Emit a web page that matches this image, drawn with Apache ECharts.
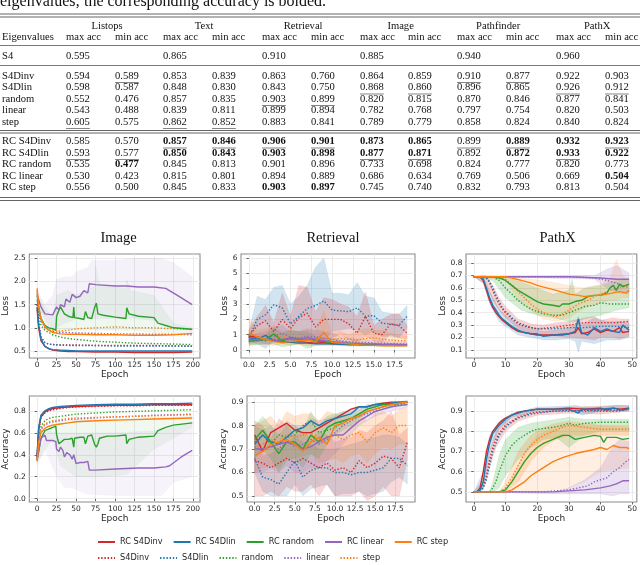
<!DOCTYPE html>
<html><head><meta charset="utf-8">
<script src="https://cdn.jsdelivr.net/npm/echarts@6/dist/echarts.min.js"></script>
<style>html,body{margin:0;padding:0;background:#fff}#c{width:640px;height:565px}</style>
</head><body><div id="c"></div><script>
// ---------------- DATA ----------------
const CAPTION = 'eigenvalues; the corresponding accuracy is bolded.';
const TASKS = ['Listops','Text','Retrieval','Image','Pathfinder','PathX'];
const SUBHEADS = ['max acc','min acc'];
const ROW_LABELS = ['S4','S4Dinv','S4Dlin','random','linear','step','RC S4Dinv','RC S4Dlin','RC random','RC linear','RC step'];
const TABLE_VALUES = [
 ['0.595','','0.865','','0.910','','0.885','','0.940','','0.960',''],
 ['0.594','0.589','0.853','0.839','0.863','0.760','0.864','0.859','0.910','0.877','0.922','0.903'],
 ['0.598','0.587','0.848','0.830','0.843','0.750','0.868','0.860','0.896','0.865','0.926','0.912'],
 ['0.552','0.476','0.857','0.835','0.903','0.899','0.820','0.815','0.870','0.846','0.877','0.841'],
 ['0.543','0.488','0.839','0.811','0.899','0.894','0.782','0.768','0.797','0.754','0.820','0.503'],
 ['0.605','0.575','0.862','0.852','0.883','0.841','0.789','0.779','0.858','0.824','0.840','0.824'],
 ['0.585','0.570','0.857','0.846','0.906','0.901','0.873','0.865','0.899','0.889','0.932','0.923'],
 ['0.593','0.577','0.850','0.843','0.903','0.898','0.877','0.871','0.892','0.872','0.933','0.922'],
 ['0.535','0.477','0.845','0.813','0.901','0.896','0.733','0.698','0.824','0.777','0.820','0.773'],
 ['0.530','0.423','0.815','0.801','0.894','0.889','0.686','0.634','0.769','0.506','0.669','0.504'],
 ['0.556','0.500','0.845','0.833','0.903','0.897','0.745','0.740','0.832','0.793','0.813','0.504']
];
const TABLE_BOLD = [[6,2],[6,3],[6,4],[6,5],[6,6],[6,7],[6,9],[6,10],[6,11],
 [7,2],[7,3],[7,4],[7,5],[7,6],[7,7],[7,9],[7,10],[7,11],[8,1],[9,11],[10,4],[10,5]];
const TABLE_UNDERLINE = [[1,1],[1,8],[1,9],[2,6],[2,7],[2,10],[2,11],[3,4],[3,5],[5,0],[5,2],[5,3],
 [6,2],[6,3],[6,4],[6,5],[6,8],[6,9],[6,11],[7,0],[7,1],[7,6],[7,7],[7,10]];

const SERIES_NAMES = ['RC S4Dinv','RC S4Dlin','RC random','RC linear','RC step','S4Dinv','S4Dlin','random','linear','step'];
const PANEL_TITLES = ['Image','Retrieval','PathX'];

const IMG_X_TICKS = [0,25,50,75,100,125,150,175,200];
const RET_X_TICKS = [0,2.5,5,7.5,10,12.5,15,17.5];
const PX_X_TICKS = [0,10,20,30,40,50];
const IMG_LOSS_Y_TICKS = [0.5,1.0,1.5,2.0,2.5];
const RET_LOSS_Y_TICKS = [0,1,2,3,4,5,6];
const PX_LOSS_Y_TICKS = [0.1,0.2,0.3,0.4,0.5,0.6,0.7,0.8];
const IMG_ACC_Y_TICKS = [0.0,0.2,0.4,0.6,0.8];
const RET_ACC_Y_TICKS = [0.5,0.6,0.7,0.8,0.9];
const PX_ACC_Y_TICKS = [0.5,0.6,0.7,0.8,0.9];

// Image (epochs 0..199)
const IMG_EPOCHS = [0,2,5,10,15,20,30,40,50,75,100,125,150,175,199];
const imgLoss_RC_S4Dinv = [1.40,1.00,0.72,0.60,0.55,0.52,0.50,0.49,0.49,0.48,0.48,0.47,0.47,0.47,0.48];
const imgLoss_RC_S4Dlin = [1.45,1.05,0.75,0.60,0.55,0.53,0.52,0.51,0.50,0.50,0.50,0.50,0.50,0.50,0.50];
const imgLoss_RC_step   = [1.85,1.45,1.20,1.02,0.95,0.90,0.87,0.86,0.86,0.85,0.85,0.84,0.84,0.85,0.88];
const imgLoss_S4Dinv    = [1.50,1.10,0.80,0.68,0.65,0.64,0.63,0.63,0.63,0.62,0.62,0.62,0.62,0.61,0.61];
const imgLoss_S4Dlin    = [1.50,1.10,0.80,0.68,0.65,0.64,0.63,0.62,0.62,0.62,0.61,0.61,0.61,0.61,0.60];
const imgLoss_random    = [1.70,1.30,1.05,0.95,0.90,0.85,0.80,0.77,0.75,0.71,0.69,0.67,0.66,0.65,0.64];
const imgLoss_linear    = [1.75,1.40,1.15,1.00,0.95,0.92,0.90,0.90,0.89,0.88,0.87,0.87,0.86,0.86,0.85];
const imgLoss_step      = [1.80,1.45,1.20,1.05,0.98,0.95,0.93,0.95,0.98,1.00,1.02,1.00,1.00,0.98,0.96];
const imgLoss_RC_random = [[0,1.6],[5,1.2],[10,1.05],[15,1.0],[20,0.98],[24,0.95],[25,1.25],[28,1.38],[30,1.45],[35,1.3],[40,1.25],[46,1.22],[47,1.45],[48,1.22],[55,1.2],[60,1.18],[62,1.35],[65,1.22],[70,1.2],[74,1.45],[76,1.53],[78,1.3],[85,1.27],[100,1.23],[114,1.2],[115,1.43],[118,1.3],[130,1.25],[150,1.22],[155,1.1],[165,1.05],[175,1.0],[199,0.97]];
const imgLoss_RC_linear = [[0,1.7],[5,1.45],[10,1.3],[20,1.28],[22,1.3],[25,1.45],[28,1.38],[30,1.5],[35,1.45],[37,1.62],[42,1.55],[45,1.72],[50,1.65],[55,1.68],[60,1.8],[65,1.75],[67,1.95],[75,1.93],[100,1.9],[115,1.9],[130,1.88],[150,1.88],[165,1.85],[180,1.7],[199,1.5]];
const imgLossBand_RC_linear = [[0,1.6,1.8],[10,1.05,1.5],[20,1.0,1.7],[25,1.0,2.05],[35,1.1,2.1],[45,1.15,2.1],[50,1.2,2.2],[65,1.2,2.3],[70,1.2,2.45],[100,1.2,2.45],[125,1.2,2.5],[150,1.15,2.5],[160,1.1,2.5],[175,1.0,2.4],[199,0.95,2.1]];
const imgLossBand_RC_random = [[0,1.5,1.7],[20,0.9,1.2],[25,0.9,1.7],[40,0.95,1.8],[50,0.95,1.7],[74,0.95,1.9],[75,0.95,2.35],[80,0.95,1.9],[114,0.95,1.85],[115,0.95,2.05],[120,0.95,1.8],[150,0.9,1.7],[175,0.9,1.1],[199,0.9,1.0]];

const imgAcc_RC_S4Dinv = [0.38,0.63,0.75,0.79,0.81,0.82,0.83,0.835,0.84,0.845,0.85,0.85,0.855,0.855,0.855];
const imgAcc_RC_S4Dlin = [0.40,0.65,0.76,0.80,0.82,0.83,0.84,0.845,0.85,0.855,0.86,0.86,0.865,0.865,0.87];
const imgAcc_RC_step   = [0.34,0.52,0.60,0.64,0.66,0.67,0.68,0.69,0.70,0.71,0.715,0.72,0.725,0.73,0.735];
const imgAcc_S4Dinv    = [0.38,0.62,0.74,0.78,0.80,0.81,0.82,0.83,0.835,0.84,0.845,0.845,0.85,0.85,0.85];
const imgAcc_S4Dlin    = [0.40,0.64,0.75,0.79,0.81,0.82,0.83,0.84,0.845,0.85,0.855,0.855,0.86,0.86,0.86];
const imgAcc_random    = [0.36,0.56,0.66,0.71,0.73,0.74,0.75,0.76,0.77,0.78,0.79,0.795,0.80,0.805,0.81];
const imgAcc_linear    = [0.35,0.53,0.63,0.67,0.69,0.70,0.71,0.72,0.725,0.735,0.745,0.75,0.76,0.765,0.77];
const imgAcc_step      = [0.36,0.55,0.64,0.68,0.70,0.71,0.72,0.73,0.735,0.74,0.745,0.75,0.755,0.76,0.765];
const imgAcc_RC_random = [[0,0.36],[5,0.55],[10,0.62],[20,0.65],[24,0.66],[25,0.58],[28,0.5],[30,0.5],[35,0.54],[40,0.54],[45,0.55],[47,0.47],[48,0.55],[55,0.56],[60,0.56],[62,0.5],[65,0.57],[70,0.58],[74,0.49],[76,0.47],[78,0.5],[80,0.55],[90,0.57],[100,0.57],[114,0.58],[115,0.5],[118,0.54],[130,0.56],[150,0.57],[155,0.62],[165,0.65],[175,0.67],[199,0.69]];
const imgAcc_RC_linear = [[0,0.35],[5,0.55],[10,0.58],[12,0.53],[20,0.53],[24,0.52],[25,0.45],[28,0.43],[30,0.47],[33,0.44],[35,0.38],[38,0.42],[42,0.4],[45,0.36],[47,0.4],[50,0.32],[55,0.33],[60,0.33],[65,0.34],[67,0.26],[75,0.26],[100,0.27],[130,0.28],[150,0.28],[165,0.29],[170,0.3],[185,0.38],[199,0.44]];
const imgAccBand_RC_linear = [[0,0.3,0.4],[10,0.45,0.62],[25,0.2,0.6],[35,0.1,0.6],[45,0.1,0.6],[65,0.04,0.6],[100,0.03,0.6],[160,0.03,0.62],[175,0.15,0.65],[199,0.2,0.7]];
const imgAccBand_RC_random = [[0,0.33,0.4],[20,0.55,0.7],[30,0.3,0.7],[50,0.2,0.72],[75,0.2,0.72],[115,0.22,0.73],[150,0.45,0.74],[199,0.65,0.75]];

// Retrieval (epochs 0..19)
const RET_EPOCHS = [0,1,2,3,4,5,6,7,8,9,10,11,12,13,14,15,16,17,18,19];
const retLoss_RC_S4Dinv = [0.9,0.85,0.7,0.6,0.55,0.5,0.55,0.5,0.45,0.5,0.4,0.4,0.35,0.35,0.3,0.3,0.3,0.3,0.3,0.3];
const retLoss_RC_S4Dlin = [0.8,0.7,0.95,0.6,0.55,0.5,0.45,0.45,0.4,0.4,0.4,0.38,0.36,0.35,0.35,0.35,0.35,0.36,0.35,0.35];
const retLoss_RC_random = [0.6,0.6,0.7,1.05,0.6,0.8,0.7,0.65,0.6,0.55,0.5,0.45,0.4,0.38,0.35,0.33,0.32,0.3,0.3,0.3];
const retLoss_RC_linear = [0.7,0.65,0.7,0.6,0.7,0.75,0.7,0.8,0.7,0.6,0.55,0.5,0.45,0.42,0.4,0.4,0.38,0.37,0.36,0.35];
const retLoss_RC_step   = [1.1,0.85,0.7,0.55,0.5,0.55,0.6,0.65,0.55,1.15,0.5,0.45,0.4,0.35,0.3,0.3,0.28,0.28,0.27,0.27];
const retLoss_S4Dinv    = [0.9,1.6,1.9,1.2,2.0,1.4,2.1,2.4,1.5,2.0,2.0,2.0,1.7,1.1,2.2,1.1,1.0,1.7,1.6,1.1];
const retLoss_S4Dlin    = [0.8,2.0,2.3,2.95,2.75,1.7,2.2,2.7,2.9,3.2,2.6,2.55,2.5,2.75,2.2,2.25,1.75,1.7,1.6,2.2];
const retLoss_random    = [0.55,0.65,0.6,0.7,0.65,0.7,0.6,0.75,0.6,0.65,0.55,0.5,0.45,0.42,0.4,0.38,0.36,0.35,0.33,0.32];
const retLoss_linear    = [0.65,0.8,0.75,0.9,1.1,0.85,0.8,0.9,0.85,0.75,0.7,0.6,0.55,0.5,0.5,0.45,0.45,0.42,0.4,0.4];
const retLoss_step      = [1.0,0.9,0.85,0.8,0.9,0.75,0.8,0.7,0.75,0.8,0.7,0.75,0.7,0.65,0.75,0.8,0.7,0.65,0.6,0.6];
const retLossBand_S4Dlin_lo = [0.5,0.4,0.1,0.6,0.4,0.5,0.6,0.8,0.5,0.6,1.2,1.3,1.4,1.3,1.0,1.2,0.9,0.9,0.8,1.4];
const retLossBand_S4Dlin_hi = [1.2,3.5,3.3,4.1,4.2,3.0,3.5,4.2,5.4,6.0,3.7,3.7,3.6,4.4,3.5,3.4,2.5,2.4,2.3,2.9];
const retLossBand_S4Dinv_lo = [0.5,0.9,0.9,0.6,0.5,0.5,0.6,0.7,0.6,0.7,0.8,1.0,0.7,0.5,0.9,0.6,0.5,1.0,0.8,0.7];
const retLossBand_S4Dinv_hi = [1.3,2.2,2.9,1.8,3.7,2.2,4.2,4.1,2.5,3.4,3.3,3.0,2.8,2.2,3.8,1.6,2.0,2.3,2.4,1.6];
const retLossBand_step_lo = [0.3,0.4,0.35,0.3,0.4,0.3,0.35,0.3,0.3,0.35,0.35,0.4,0.4,0.35,0.4,0.4,0.4,0.35,0.3,0.3];
const retLossBand_step_hi = [2.1,1.3,1.4,1.6,1.2,1.3,1.2,1.3,1.2,2.6,1.1,1.2,1.0,1.2,1.4,1.3,1.3,1.1,1.0,0.9];
const retLossBand_RC_random_lo = [0.3,0.35,0.4,0.4,0.2,0.3,0.4,0.1,0.3,0.3,0.3,0.3,0.25,0.25,0.25,0.25,0.25,0.22,0.22,0.22];
const retLossBand_RC_random_hi = [0.9,0.85,1.0,1.4,1.1,1.3,1.2,1.2,0.9,0.8,0.7,0.6,0.55,0.5,0.45,0.42,0.4,0.4,0.38,0.38];
const retLossBand_linear_lo = [0.4,0.5,0.4,0.5,0.6,0.5,0.4,0.5,0.4,0.35,0.35,0.3,0.3,0.3,0.3,0.3,0.3,0.3,0.3,0.3];
const retLossBand_linear_hi = [1.0,1.1,1.2,1.5,1.6,1.2,1.2,1.4,1.3,1.2,1.1,0.9,0.8,0.7,0.7,0.6,0.6,0.55,0.5,0.5];

const retAcc_RC_S4Dinv = [0.76,0.69,0.77,0.79,0.81,0.78,0.77,0.77,0.79,0.81,0.83,0.85,0.87,0.88,0.88,0.89,0.895,0.9,0.9,0.9];
const retAcc_RC_S4Dlin = [0.72,0.76,0.73,0.72,0.75,0.78,0.79,0.82,0.8,0.82,0.83,0.84,0.85,0.88,0.88,0.89,0.89,0.895,0.9,0.9];
const retAcc_RC_random = [0.74,0.78,0.73,0.68,0.73,0.73,0.7,0.76,0.73,0.79,0.81,0.82,0.83,0.85,0.87,0.88,0.89,0.89,0.895,0.9];
const retAcc_RC_linear = [0.7,0.7,0.71,0.72,0.73,0.72,0.7,0.71,0.73,0.75,0.76,0.76,0.79,0.82,0.84,0.86,0.87,0.88,0.885,0.89];
const retAcc_RC_step   = [0.67,0.69,0.72,0.73,0.74,0.72,0.69,0.73,0.75,0.72,0.8,0.81,0.83,0.84,0.86,0.87,0.88,0.89,0.895,0.9];
const retAcc_S4Dinv    = [0.65,0.64,0.62,0.64,0.66,0.64,0.66,0.64,0.62,0.64,0.61,0.62,0.6,0.65,0.62,0.64,0.67,0.66,0.62,0.73];
const retAcc_S4Dlin    = [0.66,0.58,0.57,0.55,0.6,0.65,0.58,0.61,0.62,0.62,0.6,0.6,0.59,0.6,0.6,0.61,0.62,0.66,0.66,0.63];
const retAcc_random    = [0.73,0.76,0.72,0.76,0.75,0.76,0.8,0.82,0.77,0.78,0.79,0.82,0.83,0.84,0.86,0.87,0.88,0.89,0.89,0.9];
const retAcc_linear    = [0.71,0.69,0.71,0.7,0.73,0.71,0.72,0.74,0.72,0.74,0.77,0.8,0.82,0.84,0.85,0.86,0.87,0.88,0.89,0.89];
const retAcc_step      = [0.7,0.72,0.74,0.73,0.76,0.75,0.76,0.77,0.73,0.75,0.76,0.74,0.76,0.77,0.73,0.77,0.79,0.77,0.8,0.8];
const retAccBand_S4Dlin_lo = [0.6,0.52,0.5,0.5,0.5,0.55,0.5,0.53,0.54,0.55,0.5,0.51,0.51,0.52,0.5,0.51,0.52,0.56,0.58,0.55];
const retAccBand_S4Dlin_hi = [0.75,0.67,0.68,0.7,0.72,0.75,0.73,0.72,0.7,0.7,0.7,0.71,0.72,0.73,0.74,0.75,0.76,0.76,0.75,0.72];
const retAccBand_S4Dinv_lo = [0.5,0.5,0.52,0.5,0.54,0.52,0.52,0.55,0.5,0.55,0.5,0.5,0.5,0.52,0.48,0.5,0.54,0.5,0.5,0.66];
const retAccBand_S4Dinv_hi = [0.82,0.8,0.74,0.83,0.8,0.76,0.77,0.75,0.77,0.76,0.73,0.74,0.75,0.78,0.77,0.8,0.82,0.86,0.76,0.79];
const retAccBand_step_lo = [0.6,0.62,0.63,0.62,0.66,0.66,0.67,0.68,0.64,0.65,0.66,0.64,0.67,0.68,0.64,0.68,0.71,0.7,0.72,0.72];
const retAccBand_step_hi = [0.8,0.82,0.84,0.8,0.86,0.84,0.85,0.85,0.82,0.86,0.85,0.84,0.84,0.85,0.82,0.85,0.86,0.84,0.87,0.88];
const retAccBand_linear_lo = [0.6,0.6,0.62,0.6,0.63,0.6,0.6,0.62,0.62,0.65,0.68,0.72,0.76,0.8,0.82,0.84,0.85,0.86,0.87,0.88];
const retAccBand_linear_hi = [0.8,0.78,0.8,0.78,0.82,0.8,0.8,0.83,0.82,0.83,0.84,0.86,0.87,0.88,0.88,0.89,0.89,0.9,0.9,0.9];
const retAccBand_RC_random_lo = [0.66,0.7,0.66,0.6,0.65,0.66,0.62,0.68,0.66,0.72,0.76,0.78,0.8,0.83,0.85,0.87,0.88,0.88,0.89,0.89];
const retAccBand_RC_random_hi = [0.8,0.84,0.8,0.76,0.8,0.8,0.78,0.86,0.8,0.84,0.85,0.86,0.86,0.87,0.89,0.89,0.9,0.9,0.9,0.91];

// PathX (epochs 0..49)
const pxLoss_RC_S4Dinv = [[0,0.69],[2,0.69],[3,0.66],[4,0.58],[5,0.5],[6,0.44],[7,0.4],[8,0.37],[9,0.34],[10,0.32],[12,0.28],[14,0.25],[16,0.24],[18,0.23],[20,0.22],[25,0.22],[30,0.23],[32,0.24],[33,0.28],[34,0.23],[36,0.24],[38,0.27],[40,0.24],[42,0.26],[44,0.25],[46,0.28],[47,0.24],[49,0.25]];
const pxLoss_RC_S4Dlin = [[0,0.69],[2,0.69],[3,0.67],[4,0.6],[5,0.52],[6,0.46],[7,0.42],[8,0.38],[9,0.35],[10,0.33],[12,0.29],[14,0.26],[16,0.24],[18,0.23],[20,0.23],[22,0.21],[25,0.22],[28,0.22],[30,0.23],[32,0.25],[33,0.35],[34,0.24],[36,0.22],[38,0.28],[40,0.25],[42,0.27],[44,0.25],[46,0.24],[47,0.3],[49,0.26]];
const pxLoss_RC_random = [[0,0.69],[6,0.69],[8,0.68],[10,0.66],[12,0.62],[14,0.58],[16,0.55],[18,0.52],[20,0.49],[22,0.47],[25,0.46],[27,0.45],[28,0.47],[30,0.47],[32,0.49],[34,0.5],[36,0.53],[38,0.54],[40,0.54],[42,0.56],[43,0.6],[44,0.62],[45,0.58],[46,0.63],[47,0.61],[49,0.63]];
const pxLoss_RC_linear = [[0,0.69],[20,0.69],[30,0.69],[40,0.68],[45,0.67],[49,0.67]];
const pxLoss_RC_step = [[0,0.69],[10,0.69],[12,0.68],[15,0.66],[18,0.64],[20,0.62],[23,0.6],[26,0.58],[30,0.55],[33,0.54],[35,0.53],[38,0.54],[40,0.54],[42,0.55],[44,0.56],[46,0.57],[48,0.56],[49,0.58]];
const pxLoss_S4Dinv = [[0,0.69],[3,0.69],[4,0.68],[5,0.64],[6,0.58],[7,0.52],[8,0.47],[9,0.43],[10,0.4],[12,0.35],[14,0.31],[16,0.29],[18,0.28],[20,0.27],[25,0.28],[30,0.3],[35,0.32],[40,0.32],[45,0.32],[49,0.33]];
const pxLoss_S4Dlin = [[0,0.69],[3,0.69],[4,0.68],[5,0.65],[6,0.6],[7,0.54],[8,0.49],[9,0.44],[10,0.41],[12,0.36],[14,0.32],[16,0.3],[18,0.28],[20,0.27],[25,0.27],[30,0.28],[35,0.28],[40,0.29],[45,0.29],[49,0.28]];
const pxLoss_random = [[0,0.69],[6,0.69],[8,0.66],[10,0.6],[12,0.55],[14,0.5],[16,0.46],[18,0.43],[20,0.41],[22,0.39],[25,0.38],[28,0.38],[30,0.4],[33,0.43],[35,0.45],[38,0.46],[40,0.48],[43,0.47],[46,0.47],[49,0.47]];
const pxLoss_linear = [[0,0.69],[30,0.69],[38,0.68],[42,0.66],[46,0.63],[49,0.6]];
const pxLoss_step = [[0,0.69],[8,0.69],[10,0.67],[12,0.62],[14,0.57],[16,0.52],[18,0.47],[20,0.43],[22,0.4],[24,0.38],[26,0.37],[28,0.39],[30,0.42],[33,0.47],[36,0.5],[38,0.53],[40,0.55],[43,0.58],[46,0.6],[49,0.62]];
const pxLossBand_RC_S4Dlin = [[0,0.69,0.69],[3,0.64,0.7],[5,0.47,0.57],[8,0.33,0.43],[10,0.29,0.38],[14,0.22,0.3],[18,0.2,0.27],[22,0.18,0.25],[26,0.18,0.26],[30,0.19,0.28],[32,0.17,0.3],[33,0.08,0.37],[34,0.17,0.3],[38,0.15,0.36],[42,0.18,0.33],[46,0.18,0.33],[49,0.2,0.32]];
const pxLossBand_S4Dinv = [[0,0.69,0.69],[4,0.62,0.7],[6,0.5,0.62],[8,0.42,0.52],[10,0.36,0.45],[14,0.27,0.35],[18,0.23,0.31],[22,0.21,0.3],[26,0.21,0.32],[30,0.2,0.33],[35,0.19,0.36],[38,0.18,0.37],[40,0.2,0.34],[44,0.2,0.36],[46,0.19,0.35],[49,0.21,0.35]];
const pxLossBand_random = [[0,0.69,0.69],[6,0.66,0.69],[10,0.52,0.68],[15,0.42,0.65],[20,0.38,0.6],[25,0.36,0.55],[30,0.33,0.58],[31,0.33,0.67],[32,0.33,0.55],[35,0.35,0.6],[40,0.38,0.62],[45,0.42,0.66],[49,0.44,0.67]];
const pxLossBand_step = [[0,0.69,0.69],[10,0.66,0.69],[14,0.5,0.68],[18,0.42,0.67],[22,0.35,0.66],[26,0.33,0.64],[30,0.36,0.62],[35,0.44,0.6],[40,0.48,0.63],[43,0.5,0.68],[45,0.5,0.83],[47,0.52,0.7],[49,0.52,0.66]];
const pxLossBand_linear = [[0,0.69,0.69],[38,0.67,0.7],[42,0.6,0.75],[45,0.56,0.78],[49,0.55,0.72]];

const pxAcc_RC_S4Dinv = [[0,0.5],[1,0.5],[2,0.52],[3,0.6],[4,0.7],[5,0.76],[6,0.8],[7,0.82],[8,0.84],[9,0.855],[10,0.865],[12,0.88],[14,0.895],[16,0.9],[18,0.905],[20,0.91],[25,0.91],[30,0.915],[35,0.91],[40,0.915],[42,0.905],[44,0.915],[46,0.91],[49,0.915]];
const pxAcc_RC_S4Dlin = [[0,0.5],[1,0.5],[2,0.51],[3,0.55],[4,0.66],[5,0.74],[6,0.79],[7,0.81],[8,0.83],[9,0.845],[10,0.86],[12,0.88],[14,0.89],[16,0.9],[18,0.905],[20,0.91],[25,0.91],[30,0.91],[33,0.89],[34,0.91],[40,0.91],[44,0.915],[47,0.905],[49,0.915]];
const pxAcc_RC_random = [[0,0.5],[8,0.5],[10,0.51],[12,0.55],[14,0.6],[16,0.65],[18,0.69],[20,0.72],[22,0.74],[25,0.76],[28,0.78],[30,0.78],[32,0.76],[35,0.77],[38,0.78],[40,0.775],[41,0.745],[42,0.77],[45,0.77],[47,0.76],[49,0.765]];
const pxAcc_RC_linear = [[0,0.5],[25,0.5],[30,0.505],[35,0.51],[40,0.52],[43,0.53],[45,0.54],[47,0.555],[49,0.555]];
const pxAcc_RC_step = [[0,0.5],[10,0.5],[12,0.51],[14,0.53],[16,0.55],[18,0.58],[20,0.6],[22,0.62],[25,0.65],[28,0.67],[30,0.68],[32,0.69],[35,0.7],[38,0.71],[40,0.72],[42,0.71],[44,0.73],[46,0.72],[48,0.72],[49,0.715]];
const pxAcc_S4Dinv = [[0,0.5],[2,0.5],[3,0.53],[4,0.58],[5,0.66],[6,0.72],[7,0.76],[8,0.79],[9,0.81],[10,0.83],[12,0.85],[14,0.87],[16,0.88],[18,0.89],[20,0.895],[25,0.9],[30,0.9],[35,0.905],[40,0.9],[45,0.9],[49,0.91]];
const pxAcc_S4Dlin = [[0,0.5],[2,0.5],[3,0.52],[4,0.56],[5,0.63],[6,0.7],[7,0.74],[8,0.78],[9,0.8],[10,0.82],[12,0.845],[14,0.865],[16,0.875],[18,0.885],[20,0.89],[25,0.9],[30,0.905],[35,0.9],[40,0.905],[45,0.905],[49,0.91]];
const pxAcc_random = [[0,0.5],[5,0.5],[6,0.52],[7,0.55],[8,0.6],[10,0.68],[12,0.73],[14,0.76],[16,0.78],[18,0.8],[20,0.81],[25,0.82],[28,0.83],[30,0.84],[32,0.83],[35,0.84],[40,0.845],[45,0.845],[49,0.845]];
const pxAcc_linear = [[0,0.5],[22,0.5],[25,0.505],[30,0.51],[33,0.52],[36,0.53],[38,0.55],[40,0.56],[42,0.57],[44,0.6],[46,0.62],[48,0.65],[49,0.66]];
const pxAcc_step = [[0,0.5],[8,0.5],[10,0.52],[12,0.57],[14,0.63],[16,0.69],[18,0.73],[20,0.76],[22,0.78],[25,0.8],[28,0.82],[30,0.83],[35,0.82],[40,0.81],[45,0.81],[49,0.81]];
const pxAccBand_random = [[0,0.5,0.5],[5,0.5,0.5],[6,0.5,0.55],[8,0.52,0.68],[10,0.58,0.76],[14,0.66,0.82],[18,0.72,0.84],[22,0.76,0.85],[26,0.77,0.86],[30,0.72,0.87],[35,0.78,0.86],[40,0.8,0.86],[49,0.8,0.86]];
const pxAccBand_RC_step = [[0,0.5,0.5],[10,0.5,0.5],[12,0.5,0.56],[16,0.5,0.7],[20,0.5,0.78],[25,0.51,0.82],[30,0.52,0.83],[35,0.55,0.83],[40,0.6,0.83],[49,0.62,0.82]];
const pxAccBand_step = [[0,0.5,0.5],[8,0.5,0.5],[10,0.5,0.55],[14,0.55,0.7],[18,0.65,0.78],[22,0.72,0.82],[26,0.76,0.84],[30,0.78,0.85],[40,0.78,0.83],[49,0.78,0.83]];
const pxAccBand_linear = [[0,0.5,0.5],[25,0.49,0.5],[30,0.49,0.52],[35,0.49,0.56],[40,0.49,0.62],[44,0.48,0.73],[46,0.49,0.76],[49,0.49,0.75]];
const pxAccBand_S4Dinv = [[0,0.5,0.5],[3,0.51,0.56],[5,0.62,0.7],[7,0.72,0.8],[10,0.8,0.86],[14,0.85,0.89],[20,0.88,0.91],[30,0.89,0.92],[40,0.885,0.925],[49,0.9,0.93]];
const pxAccBand_RC_S4Dlin = [[0,0.5,0.5],[3,0.52,0.6],[5,0.7,0.78],[8,0.81,0.85],[12,0.87,0.89],[20,0.9,0.92],[30,0.9,0.925],[32,0.9,0.93],[34,0.88,0.92],[40,0.9,0.92],[45,0.9,0.93],[49,0.9,0.925]];

// ---------------- BUILD ----------------
const COLORS = {'RC S4Dinv':'#d62728','RC S4Dlin':'#1f77b4','RC random':'#2ca02c','RC linear':'#9467bd','RC step':'#ff7f0e',
  'S4Dinv':'#d62728','S4Dlin':'#1f77b4','random':'#2ca02c','linear':'#9467bd','step':'#ff7f0e'};
const zip = (xs, ys) => xs.map((x, i) => [x, ys[i]]);
const zip3 = (xs, lo, hi) => xs.map((x, i) => [x, lo[i], hi[i]]);
function rgba(hex, a){const n=parseInt(hex.slice(1),16);return `rgba(${n>>16},${(n>>8)&255},${n&255},${a})`;}

const panels = [
 { lines: {'RC S4Dinv':zip(IMG_EPOCHS,imgLoss_RC_S4Dinv),'RC S4Dlin':zip(IMG_EPOCHS,imgLoss_RC_S4Dlin),'RC random':imgLoss_RC_random,'RC linear':imgLoss_RC_linear,'RC step':zip(IMG_EPOCHS,imgLoss_RC_step),
   'S4Dinv':zip(IMG_EPOCHS,imgLoss_S4Dinv),'S4Dlin':zip(IMG_EPOCHS,imgLoss_S4Dlin),'random':zip(IMG_EPOCHS,imgLoss_random),'linear':zip(IMG_EPOCHS,imgLoss_linear),'step':zip(IMG_EPOCHS,imgLoss_step)},
   bands: [['RC linear',imgLossBand_RC_linear,0.09],['RC random',imgLossBand_RC_random,0.08]] },
 { lines: {'RC S4Dinv':zip(RET_EPOCHS,retLoss_RC_S4Dinv),'RC S4Dlin':zip(RET_EPOCHS,retLoss_RC_S4Dlin),'RC random':zip(RET_EPOCHS,retLoss_RC_random),'RC linear':zip(RET_EPOCHS,retLoss_RC_linear),'RC step':zip(RET_EPOCHS,retLoss_RC_step),
   'S4Dinv':zip(RET_EPOCHS,retLoss_S4Dinv),'S4Dlin':zip(RET_EPOCHS,retLoss_S4Dlin),'random':zip(RET_EPOCHS,retLoss_random),'linear':zip(RET_EPOCHS,retLoss_linear),'step':zip(RET_EPOCHS,retLoss_step)},
   bands: [['S4Dlin',zip3(RET_EPOCHS,retLossBand_S4Dlin_lo,retLossBand_S4Dlin_hi),0.2],['S4Dinv',zip3(RET_EPOCHS,retLossBand_S4Dinv_lo,retLossBand_S4Dinv_hi),0.2],
     ['step',zip3(RET_EPOCHS,retLossBand_step_lo,retLossBand_step_hi),0.2],['RC random',zip3(RET_EPOCHS,retLossBand_RC_random_lo,retLossBand_RC_random_hi),0.2],['linear',zip3(RET_EPOCHS,retLossBand_linear_lo,retLossBand_linear_hi),0.2]] },
 { lines: {'RC S4Dinv':pxLoss_RC_S4Dinv,'RC S4Dlin':pxLoss_RC_S4Dlin,'RC random':pxLoss_RC_random,'RC linear':pxLoss_RC_linear,'RC step':pxLoss_RC_step,
   'S4Dinv':pxLoss_S4Dinv,'S4Dlin':pxLoss_S4Dlin,'random':pxLoss_random,'linear':pxLoss_linear,'step':pxLoss_step},
   bands: [['RC S4Dlin',pxLossBand_RC_S4Dlin,0.2],['S4Dinv',pxLossBand_S4Dinv,0.2],['random',pxLossBand_random,0.2],['step',pxLossBand_step,0.15],['linear',pxLossBand_linear,0.2]] },
 { lines: {'RC S4Dinv':zip(IMG_EPOCHS,imgAcc_RC_S4Dinv),'RC S4Dlin':zip(IMG_EPOCHS,imgAcc_RC_S4Dlin),'RC random':imgAcc_RC_random,'RC linear':imgAcc_RC_linear,'RC step':zip(IMG_EPOCHS,imgAcc_RC_step),
   'S4Dinv':zip(IMG_EPOCHS,imgAcc_S4Dinv),'S4Dlin':zip(IMG_EPOCHS,imgAcc_S4Dlin),'random':zip(IMG_EPOCHS,imgAcc_random),'linear':zip(IMG_EPOCHS,imgAcc_linear),'step':zip(IMG_EPOCHS,imgAcc_step)},
   bands: [['RC linear',imgAccBand_RC_linear,0.08],['RC random',imgAccBand_RC_random,0.07]] },
 { lines: {'RC S4Dinv':zip(RET_EPOCHS,retAcc_RC_S4Dinv),'RC S4Dlin':zip(RET_EPOCHS,retAcc_RC_S4Dlin),'RC random':zip(RET_EPOCHS,retAcc_RC_random),'RC linear':zip(RET_EPOCHS,retAcc_RC_linear),'RC step':zip(RET_EPOCHS,retAcc_RC_step),
   'S4Dinv':zip(RET_EPOCHS,retAcc_S4Dinv),'S4Dlin':zip(RET_EPOCHS,retAcc_S4Dlin),'random':zip(RET_EPOCHS,retAcc_random),'linear':zip(RET_EPOCHS,retAcc_linear),'step':zip(RET_EPOCHS,retAcc_step)},
   bands: [['S4Dlin',zip3(RET_EPOCHS,retAccBand_S4Dlin_lo,retAccBand_S4Dlin_hi),0.18],['S4Dinv',zip3(RET_EPOCHS,retAccBand_S4Dinv_lo,retAccBand_S4Dinv_hi),0.18],
     ['step',zip3(RET_EPOCHS,retAccBand_step_lo,retAccBand_step_hi),0.2],['linear',zip3(RET_EPOCHS,retAccBand_linear_lo,retAccBand_linear_hi),0.18],['RC random',zip3(RET_EPOCHS,retAccBand_RC_random_lo,retAccBand_RC_random_hi),0.18]] },
 { lines: {'RC S4Dinv':pxAcc_RC_S4Dinv,'RC S4Dlin':pxAcc_RC_S4Dlin,'RC random':pxAcc_RC_random,'RC linear':pxAcc_RC_linear,'RC step':pxAcc_RC_step,
   'S4Dinv':pxAcc_S4Dinv,'S4Dlin':pxAcc_S4Dlin,'random':pxAcc_random,'linear':pxAcc_linear,'step':pxAcc_step},
   bands: [['random',pxAccBand_random,0.2],['RC step',pxAccBand_RC_step,0.12],['step',pxAccBand_step,0.2],['linear',pxAccBand_linear,0.2],['S4Dinv',pxAccBand_S4Dinv,0.2],['RC S4Dlin',pxAccBand_RC_S4Dlin,0.2]] }
];

// layout
const GRIDS = [
 {left:27, top:254, width:173, height:104},
 {left:241, top:254, width:174, height:104},
 {left:466, top:254, width:173, height:104},
 {left:27, top:396, width:173, height:106},
 {left:247, top:396, width:168, height:106},
 {left:466, top:396, width:173, height:106}
];
const XR = [[-10,209,IMG_X_TICKS,v=>String(v)],[-0.95,19.95,RET_X_TICKS,v=>v.toFixed(1)],[-2.45,51.45,PX_X_TICKS,v=>String(v)]];
const YR = [[0.35,2.59,IMG_LOSS_Y_TICKS,v=>v.toFixed(1),'Loss',13],[-0.52,6.26,RET_LOSS_Y_TICKS,v=>String(v),'Loss',10],[0.035,0.873,PX_LOSS_Y_TICKS,v=>v.toFixed(1),'Loss',16],
 [-0.03,0.935,IMG_ACC_Y_TICKS,v=>v.toFixed(1),'Accuracy',16],[0.474,0.926,RET_ACC_Y_TICKS,v=>v.toFixed(1),'Accuracy',16],[0.45,0.975,PX_ACC_Y_TICKS,v=>v.toFixed(1),'Accuracy',16]];

const TXT = '#262626';
const tickFont = {fontFamily:'DejaVu Sans', fontSize:7.5, color:TXT};
const nameFont = {fontFamily:'DejaVu Sans', fontSize:9, color:TXT};
const grid = [], xAxis = [], yAxis = [], series = [];
GRIDS.forEach((g, i) => {
  grid.push(Object.assign({show:true, borderColor:'#8c8c8c', borderWidth:1.1, backgroundColor:'#fff', containLabel:false}, g));
  const xr = XR[i % 3], yr = YR[i];
  xAxis.push({type:'value', gridIndex:i, min:xr[0], max:xr[1], name:'Epoch', nameLocation:'middle', nameGap:11, nameTextStyle:nameFont,
    axisLine:{show:false}, axisTick:{show:true, customValues:xr[2], length:2.5, lineStyle:{color:'#444', width:0.8}},
    axisLabel:{customValues:xr[2], formatter:xr[3], margin:3.5, ...tickFont, hideOverlap:false},
    splitLine:{show:true, lineStyle:{color:'#e6e6e6', width:0.8}}});
  yAxis.push({type:'value', gridIndex:i, min:yr[0], max:yr[1], name:yr[4], nameLocation:'middle', nameGap:yr[5], nameRotate:90, nameTextStyle:nameFont,
    axisLine:{show:false}, axisTick:{show:true, customValues:yr[2], length:2.5, lineStyle:{color:'#444', width:0.8}},
    axisLabel:{customValues:yr[2], formatter:yr[3], margin:3.5, ...tickFont, hideOverlap:false},
    splitLine:{show:true, lineStyle:{color:'#e6e6e6', width:0.8}}});
  const p = panels[i];
  p.bands.forEach(([nm, band, op]) => {
    series.push({type:'custom', xAxisIndex:i, yAxisIndex:i, silent:true, z:1, clip:true, data:band, encode:{x:0, y:[1,2]},
      renderItem:(params, api) => {
        if (params.dataIndex !== 0) return null;
        const up = band.map(b => api.coord([b[0], b[2]]));
        const lo = band.map(b => api.coord([b[0], b[1]])).reverse();
        return {type:'polygon', shape:{points:up.concat(lo)}, style:{fill:rgba(COLORS[nm], op), stroke:rgba(COLORS[nm], op*0.8), lineWidth:0.5}};
      }});
  });
  const order = SERIES_NAMES.slice(5).concat(SERIES_NAMES.slice(0,5));
  order.forEach(nm => {
    const dotted = !nm.startsWith('RC');
    series.push({type:'line', name:nm, xAxisIndex:i, yAxisIndex:i, data:p.lines[nm], symbol:'none', showSymbol:false, silent:true, z:3,
      lineStyle:{color:COLORS[nm], width:1.4, type: dotted ? [1.4, 1.8] : 'solid'}, itemStyle:{color:COLORS[nm]}});
  });
});

const title = PANEL_TITLES.map((t, i) => ({text:t, left: GRIDS[i].left + GRIDS[i].width/2, top:226, textAlign:'center',
  textStyle:{fontFamily:'Liberation Serif', fontSize:14.5, fontWeight:'normal', color:'#111'}}));

const legendCommon = {left:92, itemGap:10, itemWidth:17, itemHeight:8, selectedMode:false, itemStyle:{opacity:0},
  textStyle:{fontFamily:'DejaVu Sans', fontSize:8.2, color:TXT, width:71}};
const legend = [Object.assign({data:SERIES_NAMES.slice(0,5), top:533}, legendCommon), Object.assign({data:SERIES_NAMES.slice(5), top:549}, legendCommon)];

// table graphics
const cv = document.createElement('canvas').getContext('2d');
const FS = 10.6, TF = `${FS}px "Liberation Serif"`, TFB = `bold ${FS}px "Liberation Serif"`;
function tw(t, f){ cv.font = f; return cv.measureText(t).width; }
const COLX = [66,115,163,212,262,311,360,408,457,506,556,605];
const ROWY = [56,76,87.5,99,110.5,122,141.5,153,164.5,176,187.5];
const els = [];
function txt(t, x, y, f, align){ els.push({type:'text', silent:true, style:{text:t, x, y, font:f, fill:'#111', textAlign:align||'left', textVerticalAlign:'middle'}}); }
function hline(y, w){ els.push({type:'line', silent:true, shape:{x1:0, y1:y, x2:640, y2:y}, style:{stroke:'#222', lineWidth:w||0.7}}); }
els.push({type:'text', silent:true, style:{text:CAPTION, x:0, y:2, font:'16px "Liberation Serif"', fill:'#111', textVerticalAlign:'middle'}});
hline(14); hline(17);
TASKS.forEach((t, k) => { const x0 = COLX[2*k], x1 = COLX[2*k+1] + tw(SUBHEADS[1], TF); txt(t, (x0+x1)/2, 26, TF, 'center'); });
txt('Eigenvalues', 2, 37.5, TF);
COLX.forEach((x, c) => txt(SUBHEADS[c%2], x, 37.5, TF));
hline(45.5, 0.6); hline(65.5, 0.6); hline(130.5); hline(133); hline(197.5); hline(200.5);
const boldSet = new Set(TABLE_BOLD.map(a => a.join(','))), ulSet = new Set(TABLE_UNDERLINE.map(a => a.join(',')));
ROW_LABELS.forEach((lab, r) => {
  txt(lab, 2, ROWY[r], TF);
  TABLE_VALUES[r].forEach((v, c) => {
    if (!v) return;
    const b = boldSet.has(r+','+c), f = b ? TFB : TF;
    txt(v, COLX[c], ROWY[r], f);
    if (ulSet.has(r+','+c)) { const w = tw(v, f); els.push({type:'line', silent:true, shape:{x1:COLX[c], y1:ROWY[r]+6.5, x2:COLX[c]+w, y2:ROWY[r]+6.5}, style:{stroke:'#333', lineWidth:0.6}}); }
  });
});

const chart = echarts.init(document.getElementById('c'), null, {renderer:'canvas'});
chart.setOption({animation:false, backgroundColor:'#fff', title, legend, grid, xAxis, yAxis, series, graphic:{elements:els}});
</script></body></html>
